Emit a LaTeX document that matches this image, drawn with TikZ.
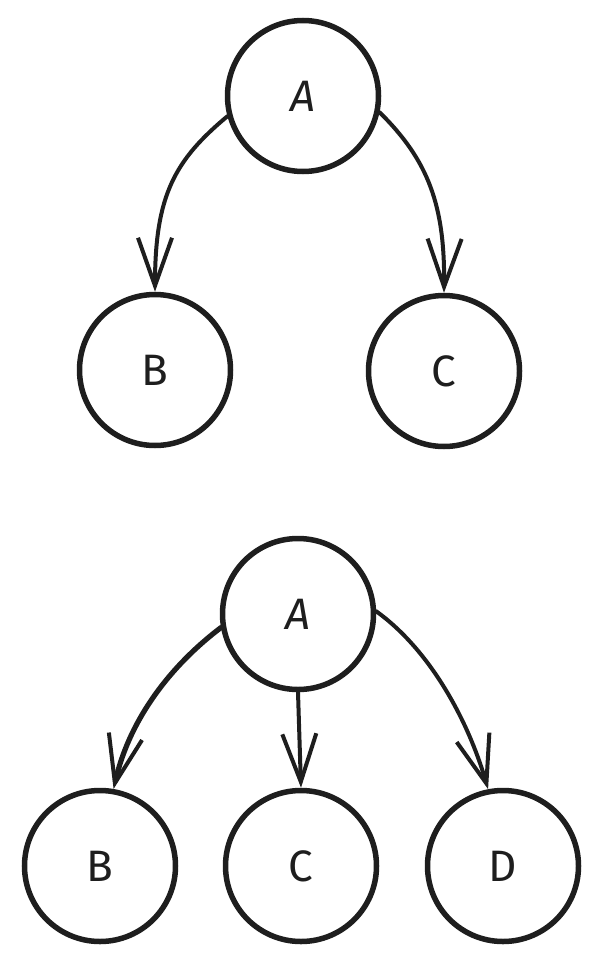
\documentclass[tikz,border=0pt]{standalone}
\usepackage{fontspec}
\setmainfont{Fira Sans}
\usetikzlibrary{arrows.meta}
\begin{document}
\begin{tikzpicture}[x=1pt,y=-1pt,
  vertex/.style={circle,draw=ink,line width=5.5pt,minimum size=151pt,inner sep=0pt,
    font=\fontsize{44}{44}\selectfont,text=ink},
  edge/.style={draw=ink,line width=4pt,line cap=round,
    -{Straight Barb[length=48pt,width=34pt,line width=4pt]}}]
\definecolor{ink}{HTML}{1E1E1E}
\useasboundingbox (0,0) rectangle (600,963);
% first tree: A with two children
\node[vertex] (a1) at (303,96) {\itshape A};
\node[vertex] (b1) at (155,370) {B};
\node[vertex] (c1) at (444,371) {C};
\draw[edge] (a1.195) .. controls (175,160) and (155,195) .. (b1.north);
\draw[edge] (a1.-12) .. controls (428,160) and (445,205) .. (c1.north);
% second tree: A with three children
\node[vertex] (a2) at (298,614) {\itshape A};
\node[vertex] (b2) at (100,866) {B};
\node[vertex] (c2) at (301,866) {C};
\node[vertex] (d2) at (503,866) {D};
\draw[edge,line width=5.2pt] (a2.190) .. controls (165,670) and (128,725) .. (b2.80);
\draw[edge] (a2.south) -- (c2.north);
\draw[edge] (a2.2) .. controls (430,650) and (468,720) .. (d2.101);
\end{tikzpicture}
\end{document}
